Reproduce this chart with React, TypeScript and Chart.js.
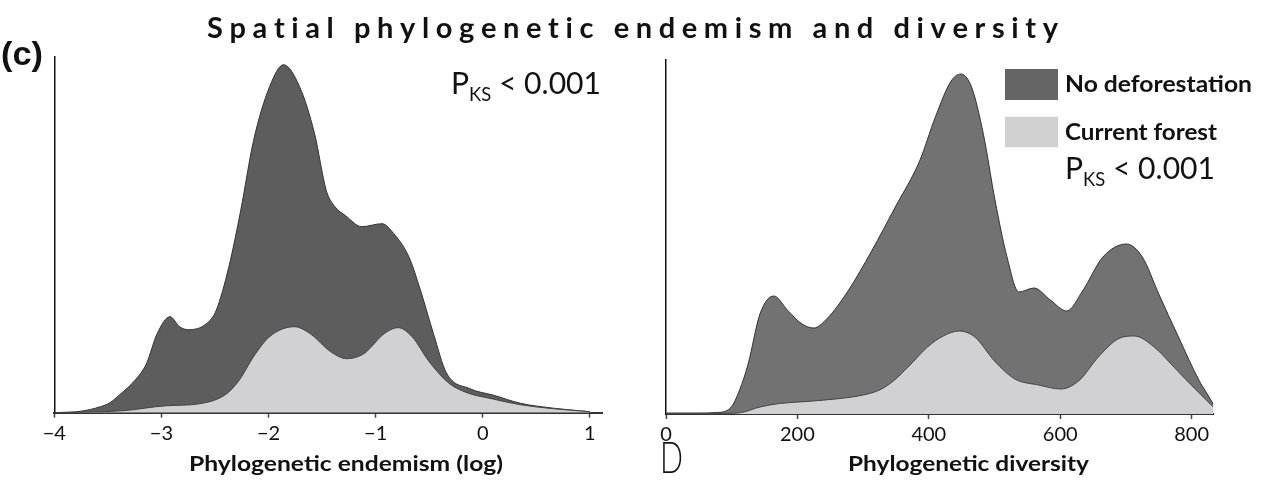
import React, { useEffect, useRef } from 'react';
import { Chart, registerables } from 'chart.js';

Chart.register(...registerables);

// ---------- text ----------
const chartTitle = 'Spatial phylogenetic endemism and diversity';
const seriesLabels = ['No deforestation', 'Current forest'];
const panelLetters = ['(c)', 'D'];
const ksMain = 'P';
const ksSub = 'KS';
const ksRest = ' < 0.001';
const endemismAxisTitle = 'Phylogenetic endemism (log)';
const diversityAxisTitle = 'Phylogenetic diversity';

// ---------- ticks ----------
const endemismTickValues = [-4, -3, -2, -1, 0, 1];
const endemismTickLabels = ['−4', '−3', '−2', '−1', '0', '1'];
const diversityTickValues = [0, 200, 400, 600, 800];
const diversityTickLabels = ['0', '200', '400', '600', '800'];

// ---------- data (density, arbitrary units) ----------
const endemismNoDefX = [-4, -3.75, -3.57, -3.48, -3.39, -3.25, -3.14, -3.04, -2.92, -2.83, -2.75, -2.58, -2.49, -2.37, -2.26, -2.14, -1.99, -1.86, -1.71, -1.57, -1.46, -1.38, -1.28, -1.13, -0.94, -0.83, -0.69, -0.58, -0.46, -0.34, -0.12, 0.1, 0.35, 0.66, 1.0];
const endemismNoDefY = [0, 1.5, 6, 10, 18, 32, 49, 79, 96, 86, 83, 89, 102, 146, 202, 272, 326, 348, 326, 279, 222, 206, 197, 186, 189, 179, 156, 122, 79, 40, 24, 17.5, 9.5, 4.5, 1];
const endemismForestX = [-4, -3.36, -2.95, -2.64, -2.39, -2.27, -2.14, -1.99, -1.76, -1.61, -1.42, -1.27, -1.11, -0.92, -0.79, -0.66, -0.5, -0.31, -0.12, 0.04, 0.35, 0.66, 1.0];
const endemismForestY = [0, 2, 7, 9, 19, 33, 56, 76, 86, 79, 61, 54, 59, 79, 85, 76, 51, 29, 19, 15, 8, 4, 1];

const diversityNoDefX = [0, 50, 77, 98, 112, 125, 143, 164, 186, 207, 225, 246, 277, 313, 349, 386, 410, 434, 449, 465, 483, 501, 519, 537, 560, 585, 610, 634, 665, 701, 725, 750, 780, 811, 822, 833];
const diversityNoDefY = [1, 1, 1.5, 6, 24, 50, 100, 118, 103, 90, 86, 96, 123, 163, 207, 253, 297, 333, 340, 327, 280, 213, 157, 122, 126, 114, 103, 123, 157, 170, 157, 120, 77, 34, 22, 10];
const diversityForestX = [0, 90, 115, 143, 173, 214, 265, 300, 325, 346, 370, 398, 422, 446, 470, 500, 531, 567, 601, 628, 658, 688, 713, 743, 773, 789, 804, 833];
const diversityForestY = [0, 0.5, 1.5, 7, 10.5, 12.5, 15.5, 19, 24, 33, 48, 67, 78, 83, 77, 53, 35, 29, 25, 33, 57, 75, 78, 67, 47, 36, 26, 7];

// ---------- styling ----------
const W = 1266;
const H = 481;
const X_AXIS_H = 40;
const LIGHT_FILL = '#d1d1d3';
const LEFT_DARK = '#5d5d5d';
const RIGHT_DARK = '#727272';
const LEGEND_COLORS = ['#646464', '#d1d1d1'];
const TEXT = '#111';

function drawFit(ctx: CanvasRenderingContext2D, text: string, x: number, baseline: number, width: number, font: string) {
  ctx.save();
  ctx.font = font;
  ctx.fillStyle = TEXT;
  ctx.textAlign = 'left';
  ctx.textBaseline = 'alphabetic';
  const w = ctx.measureText(text).width;
  ctx.translate(x, baseline);
  ctx.scale(width / w, 1);
  ctx.fillText(text, 0, 0);
  ctx.restore();
}

function drawSpaced(ctx: CanvasRenderingContext2D, text: string, x: number, baseline: number, width: number, font: string) {
  ctx.save();
  ctx.font = font;
  ctx.fillStyle = TEXT;
  ctx.textAlign = 'left';
  ctx.textBaseline = 'alphabetic';
  const chars = Array.from(text);
  const natural = chars.reduce((s, c) => s + ctx.measureText(c).width, 0);
  const gap = (width - natural) / (chars.length - 1);
  let cx = x;
  for (const c of chars) {
    ctx.fillText(c, cx, baseline);
    cx += ctx.measureText(c).width + gap;
  }
  ctx.restore();
}

function drawKS(ctx: CanvasRenderingContext2D, x: number, baseline: number, width: number) {
  const big = '31px Lato';
  const small = '19px Lato';
  ctx.save();
  ctx.fillStyle = TEXT;
  ctx.textAlign = 'left';
  ctx.textBaseline = 'alphabetic';
  ctx.font = big;
  const w1 = ctx.measureText(ksMain).width;
  const w3 = ctx.measureText(ksRest).width;
  ctx.font = small;
  const w2 = ctx.measureText(ksSub).width;
  const total = w1 + w2 + w3;
  ctx.translate(x, baseline);
  ctx.scale(width / total, 1);
  ctx.font = big;
  ctx.fillText(ksMain, 0, 0);
  ctx.font = small;
  ctx.fillText(ksSub, w1, 6.5);
  ctx.font = big;
  ctx.fillText(ksRest, w1 + w2, 0);
  ctx.restore();
}

type Area = { left: number; right: number; top: number; bottom: number };

function buildConfig(p: {
  noDefX: number[]; noDefY: number[]; forestX: number[]; forestY: number[];
  xMin: number; xMax: number; yMax: number; tickValues: number[]; tickLabels: string[];
  area: Area; dark: string; draw: (ctx: CanvasRenderingContext2D) => void;
}): any {
  const mk = (xs: number[], ys: number[]) => xs.map((x, i) => ({ x, y: ys[i] }));
  return {
    type: 'line',
    data: {
      datasets: [
        {
          label: seriesLabels[1],
          data: mk(p.forestX, p.forestY),
          fill: 'origin',
          backgroundColor: LIGHT_FILL,
          borderColor: '#444',
          borderWidth: 1,
          pointRadius: 0,
          cubicInterpolationMode: 'monotone',
          order: 0,
        },
        {
          label: seriesLabels[0],
          data: mk(p.noDefX, p.noDefY),
          fill: 'origin',
          backgroundColor: p.dark,
          borderColor: '#333',
          borderWidth: 1,
          pointRadius: 0,
          cubicInterpolationMode: 'monotone',
          order: 1,
        },
      ],
    },
    options: {
      animation: false,
      responsive: false,
      devicePixelRatio: 1,
      events: [],
      layout: {
        padding: {
          left: p.area.left,
          right: W - p.area.right,
          top: p.area.top,
          bottom: H - p.area.bottom - X_AXIS_H,
        },
      },
      plugins: { legend: { display: false }, tooltip: { enabled: false }, title: { display: false } },
      scales: {
        x: {
          type: 'linear',
          min: p.xMin,
          max: p.xMax,
          afterBuildTicks: (s: any) => {
            s.ticks = p.tickValues.map((v) => ({ value: v }));
          },
          afterFit: (s: any) => {
            s.height = X_AXIS_H;
          },
          ticks: {
            autoSkip: false,
            maxRotation: 0,
            padding: 4,
            color: TEXT,
            font: { family: 'Lato', size: 20 },
            callback: (v: number) => p.tickLabels[p.tickValues.indexOf(v)],
          },
          grid: { display: true, drawOnChartArea: false, drawTicks: true, tickLength: 5, tickWidth: 1.5, tickColor: '#444' },
          border: { display: true, color: '#333', width: 2 },
        },
        y: {
          type: 'linear',
          min: 0,
          max: p.yMax,
          ticks: { display: false },
          grid: { display: false, drawTicks: false },
          border: { display: true, color: '#111', width: 1.5 },
          afterFit: (s: any) => {
            s.width = 0;
          },
        },
      },
    },
    plugins: [
      {
        id: 'panelText',
        afterDraw: (chart: any) => p.draw(chart.ctx),
      },
    ],
  };
}

export default function App() {
  const leftRef = useRef<HTMLCanvasElement | null>(null);
  const rightRef = useRef<HTMLCanvasElement | null>(null);

  useEffect(() => {
    document.body.style.margin = '0';
    const left = new Chart(
      leftRef.current as HTMLCanvasElement,
      buildConfig({
        noDefX: endemismNoDefX, noDefY: endemismNoDefY,
        forestX: endemismForestX, forestY: endemismForestY,
        xMin: -4, xMax: 1.12, yMax: 356,
        tickValues: endemismTickValues, tickLabels: endemismTickLabels,
        area: { left: 54.3, right: 602.7, top: 56.7, bottom: 412.7 },
        dark: LEFT_DARK,
        draw: (ctx) => {
          drawSpaced(ctx, chartTitle, 207, 38, 851, 'bold 29px Lato');
          drawFit(ctx, panelLetters[0], 1, 65, 42, 'bold 34px "Liberation Sans"');
          drawKS(ctx, 451, 94, 150);
          drawFit(ctx, endemismAxisTitle, 189, 471, 314, 'bold 21px Lato');
        },
      })
    );
    const right = new Chart(
      rightRef.current as HTMLCanvasElement,
      buildConfig({
        noDefX: diversityNoDefX, noDefY: diversityNoDefY,
        forestX: diversityForestX, forestY: diversityForestY,
        xMin: 0, xMax: 833, yMax: 354.7,
        tickValues: diversityTickValues, tickLabels: diversityTickLabels,
        area: { left: 666, right: 1213.3, top: 59.3, bottom: 414 },
        dark: RIGHT_DARK,
        draw: (ctx) => {
          ctx.save();
          ctx.fillStyle = LEGEND_COLORS[0];
          ctx.fillRect(1005, 69, 53, 31);
          ctx.fillStyle = LEGEND_COLORS[1];
          ctx.fillRect(1005, 116.7, 53, 30.6);
          ctx.restore();
          drawFit(ctx, seriesLabels[0], 1065, 92.3, 187, 'bold 22px Lato');
          drawFit(ctx, seriesLabels[1], 1065, 140, 152, 'bold 22px Lato');
          drawKS(ctx, 1065, 179.3, 150);
          drawFit(ctx, diversityAxisTitle, 848, 471, 241, 'bold 21px Lato');
          drawFit(ctx, panelLetters[1], 660, 473, 23, '300 44px Lato');
        },
      })
    );
    return () => {
      left.destroy();
      right.destroy();
    };
  }, []);

  return (
    <div style={{ position: 'relative', width: W, height: H, overflow: 'hidden', background: '#fff' }}>
      <canvas ref={leftRef} width={W} height={H} style={{ position: 'absolute', left: 0, top: 0 }} />
      <canvas ref={rightRef} width={W} height={H} style={{ position: 'absolute', left: 0, top: 0 }} />
    </div>
  );
}
